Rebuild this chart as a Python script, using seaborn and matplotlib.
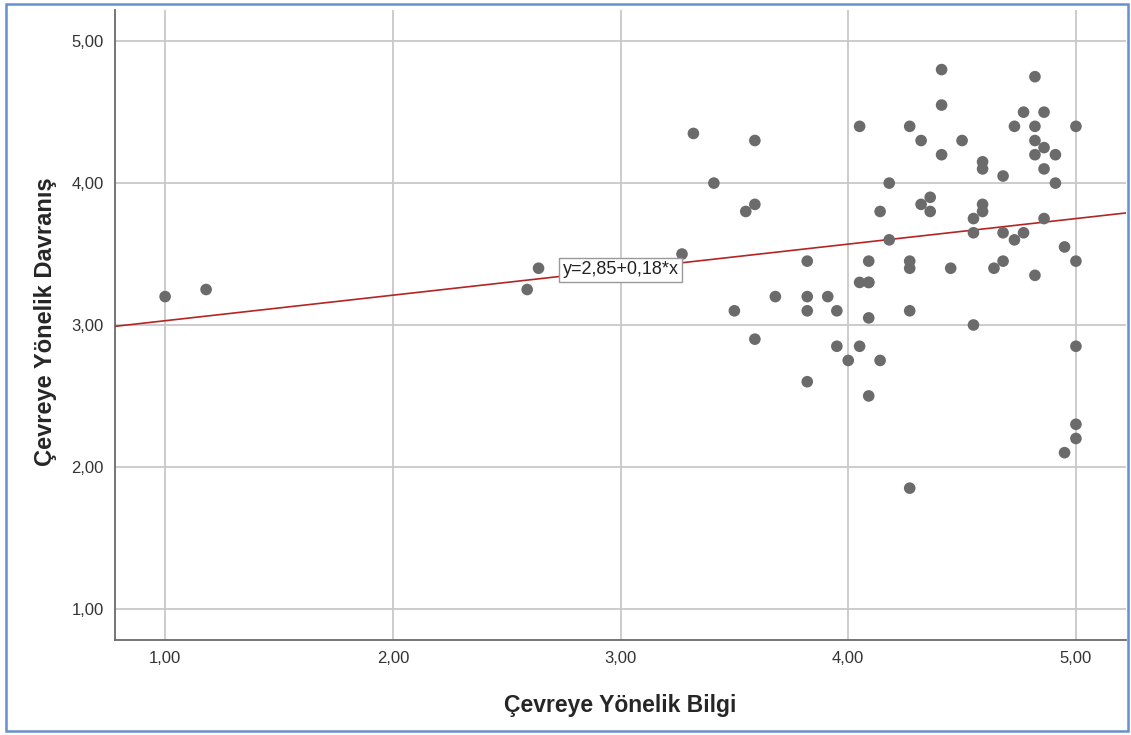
import numpy as np
import pandas as pd
import seaborn as sns
import matplotlib
matplotlib.use('Agg')
import matplotlib.pyplot as plt
from matplotlib.ticker import FuncFormatter, FixedLocator
from matplotlib.patches import Rectangle

# values
bilgi = [1.00, 1.18, 2.59, 2.64, 3.27, 3.32, 3.41, 3.50, 3.55, 3.59, 3.59, 3.59,
         3.68, 3.82, 3.82, 3.82, 3.82, 3.91, 3.95, 3.95, 4.00, 4.05, 4.05, 4.05,
         4.09, 4.09, 4.09, 4.09, 4.09, 4.14, 4.14, 4.18, 4.18,
         4.27, 4.27, 4.27, 4.27, 4.27, 4.32, 4.32, 4.36, 4.36,
         4.41, 4.41, 4.41, 4.45, 4.50, 4.55, 4.55, 4.55,
         4.59, 4.59, 4.59, 4.59, 4.64, 4.68, 4.68, 4.68,
         4.73, 4.73, 4.77, 4.77, 4.82, 4.82, 4.82, 4.82, 4.82,
         4.86, 4.86, 4.86, 4.86, 4.91, 4.91, 4.95, 4.95,
         5.00, 5.00, 5.00, 5.00, 5.00]
davranis = [3.20, 3.25, 3.25, 3.40, 3.50, 4.35, 4.00, 3.10, 3.80, 4.30, 3.85, 2.90,
            3.20, 3.45, 3.20, 3.10, 2.60, 3.20, 3.10, 2.85, 2.75, 4.40, 3.30, 2.85,
            3.45, 3.30, 3.05, 2.50, 3.30, 3.80, 2.75, 4.00, 3.60,
            4.40, 3.45, 3.40, 3.10, 1.85, 4.30, 3.85, 3.90, 3.80,
            4.80, 4.55, 4.20, 3.40, 4.30, 3.75, 3.65, 3.00,
            4.15, 4.10, 3.85, 3.80, 3.40, 4.05, 3.65, 3.45,
            4.40, 3.60, 4.50, 3.65, 4.75, 4.40, 4.30, 4.20, 3.35,
            4.50, 4.25, 4.10, 3.75, 4.20, 4.00, 3.55, 2.10,
            4.40, 3.45, 2.85, 2.30, 2.20]
intercept = 2.85
slope = 0.18
ticks = [1.0, 2.0, 3.0, 4.0, 5.0]

df = pd.DataFrame({'bilgi': bilgi, 'davranis': davranis})

sns.set_style('white')
plt.rcParams['font.family'] = ['Liberation Sans', 'DejaVu Sans']

fig = plt.figure(figsize=(11.31, 7.35), dpi=100)
ax = fig.add_axes([0.1017, 0.1293, 0.8939, 0.8571])

ax.axline((0, intercept), slope=slope, color='#b52424', lw=1.2, zorder=3)
sns.scatterplot(data=df, x='bilgi', y='davranis', ax=ax, s=70,
                color='#6b6b6b', edgecolor='none', zorder=4)

ax.set_xlim(0.78, 5.22)
ax.set_ylim(0.78, 5.22)
ax.xaxis.set_major_locator(FixedLocator(ticks))
ax.yaxis.set_major_locator(FixedLocator(ticks))
comma = FuncFormatter(lambda v, p: f'{v:.2f}'.replace('.', ','))
ax.xaxis.set_major_formatter(comma)
ax.yaxis.set_major_formatter(comma)
ax.grid(True, color='#c8c8c8', lw=1.3, zorder=0)
ax.set_axisbelow(True)
ax.tick_params(length=0, labelsize=12, labelcolor='#333333', pad=8)

for side in ['top', 'right']:
    ax.spines[side].set_visible(False)
for side in ['left', 'bottom']:
    ax.spines[side].set_color('#6a6a6a')
    ax.spines[side].set_linewidth(1.3)

ax.set_xlabel('Çevreye Yönelik Bilgi', fontsize=16.5, fontweight='bold',
              labelpad=20)
ax.set_ylabel('Çevreye Yönelik Davranış', fontsize=17, fontweight='bold')
ax.yaxis.set_label_coords(-0.057, 0.506)

ax.text(2.745, 3.39, f'y={intercept:.2f}+{slope:.2f}*x'.replace('.', ','),
        fontsize=13, color='#222222', va='center', ha='left', zorder=5,
        bbox=dict(boxstyle='square,pad=0.2', facecolor='white',
                  edgecolor='#999999', lw=1))

fig.patches.append(Rectangle((0.005, 0.005), 0.992, 0.99,
                             transform=fig.transFigure, fill=False,
                             edgecolor='#6690cc', lw=1.8))

plt.savefig('out.png', dpi=100)
